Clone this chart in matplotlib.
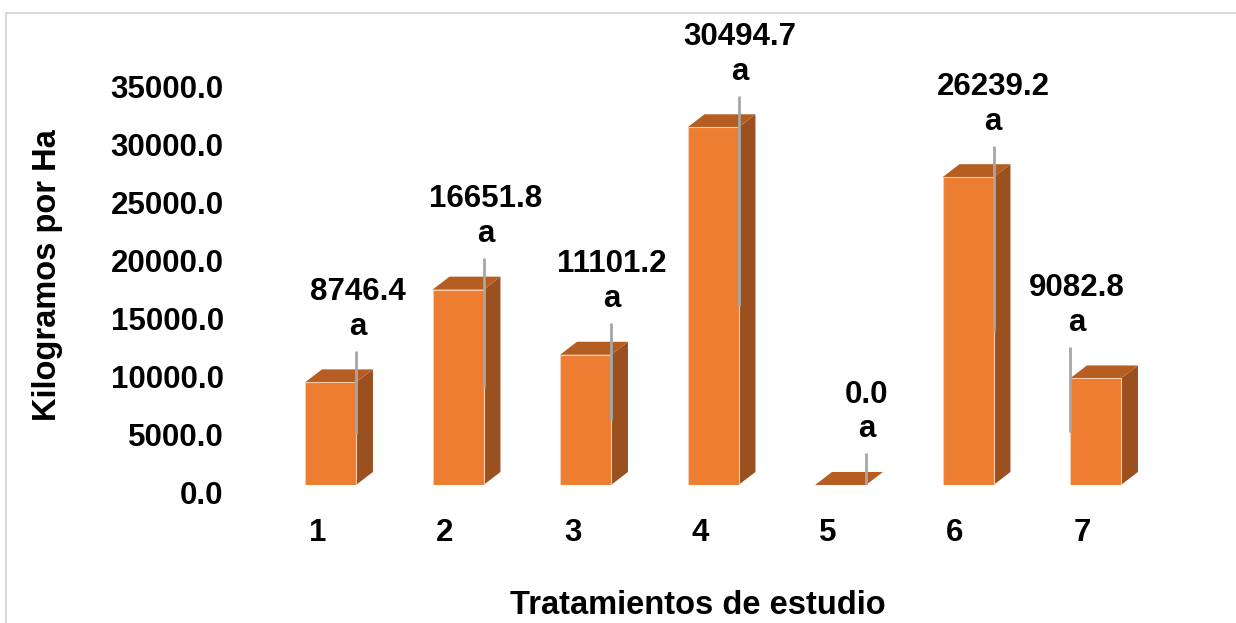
import matplotlib.pyplot as plt
from matplotlib.patches import Polygon, Rectangle

plt.rcParams['font.family'] = ['Liberation Sans', 'DejaVu Sans']
plt.rcParams['font.weight'] = 'bold'

# Rendimiento por tratamiento
tratamientos = ['1', '2', '3', '4', '5', '6', '7']
kg_ha = [8746.4, 16651.8, 11101.2, 30494.7, 0.0, 26239.2, 9082.8]
letras = ['a', 'a', 'a', 'a', 'a', 'a', 'a']
y_ticks = [0, 5000, 10000, 15000, 20000, 25000, 30000, 35000]

W, H = 1236, 623
fig = plt.figure(figsize=(W / 100, H / 100), dpi=100)

# light frame around the chart area
fig.add_artist(Rectangle((6 / W, -0.1), 1.2, 1 + 0.1 - 13 / H,
                         transform=fig.transFigure, fill=False,
                         edgecolor='#D9D9D9', linewidth=1.5))

# main plotting area: one category = 127.5 px, 1000 kg = 11.73 px
ax = fig.add_axes([266.75 / W, 138 / H, 892.5 / W, 469.2 / H])
ax.set_xlim(0.5, 7.5)
ax.set_ylim(0, 40000)
ax.axis('off')

front = '#ED7D31'
top_c = '#B65E22'
side_c = '#9A501F'
bw = 0.4          # bar width (category units)
dx = 0.133        # depth, x
dy = 1110         # depth, y

for i, v in enumerate(kg_ha):
    x0 = i + 1 - bw / 2
    x1 = x0 + bw
    if v > 0:
        ax.add_patch(Polygon([(x1, 0), (x1 + dx, dy), (x1 + dx, v + dy), (x1, v)],
                             closed=True, facecolor=side_c, edgecolor='none'))
    ax.add_patch(Polygon([(x0, v), (x1, v), (x1 + dx, v + dy), (x0 + dx, v + dy)],
                         closed=True, facecolor=top_c, edgecolor='none'))
    if v > 0:
        ax.add_patch(Rectangle((x0, 0), bw, v, facecolor=front,
                               edgecolor='#F8CBAD', linewidth=0.8))

# data labels with leader lines
lbl_dx = [27, 28, 26, 27, 26, 25, -19]
for i, (v, l) in enumerate(zip(kg_ha, letras)):
    x_line = i + 1 + bw / 2 if i < 6 else i + 1 - bw / 2
    ax.plot([x_line, x_line], [v / 2, v + 2700], color='#A6A6A6', lw=2,
            solid_capstyle='butt', zorder=3)
    ax.annotate(f'{v:.1f}\n{l}', xy=(i + 1, v), xytext=(lbl_dx[i], 73),
                textcoords='offset pixels', ha='center', va='center',
                fontsize=22.5, fontweight='bold', linespacing=1.2)

# category labels
for i, t in enumerate(tratamientos):
    ax.annotate(t, xy=(i + 1, 0), xytext=(-13, -48), textcoords='offset pixels',
                ha='center', va='center', fontsize=22.5, fontweight='bold')

# value axis labels (back wall scale)
ax2 = fig.add_axes([232 / W, 130 / H, 1 / W, 406 / H])
ax2.set_ylim(0, 35000)
ax2.set_yticks(y_ticks)
ax2.set_yticklabels([f'{t:.1f}' for t in y_ticks], fontsize=22.5, fontweight='bold')
ax2.tick_params(axis='y', length=0, pad=6)
ax2.set_xticks([])
for s in ax2.spines.values():
    s.set_visible(False)
ax2.patch.set_alpha(0)

fig.text(48 / W, 1 - 275 / H, 'Kilogramos por Ha', rotation=90, ha='center',
         va='center', fontsize=23.5, fontweight='bold')
fig.text(698 / W, 1 - 606 / H, 'Tratamientos de estudio', ha='center',
         va='center', fontsize=23.5, fontweight='bold')

fig.savefig('out.png', dpi=100)
